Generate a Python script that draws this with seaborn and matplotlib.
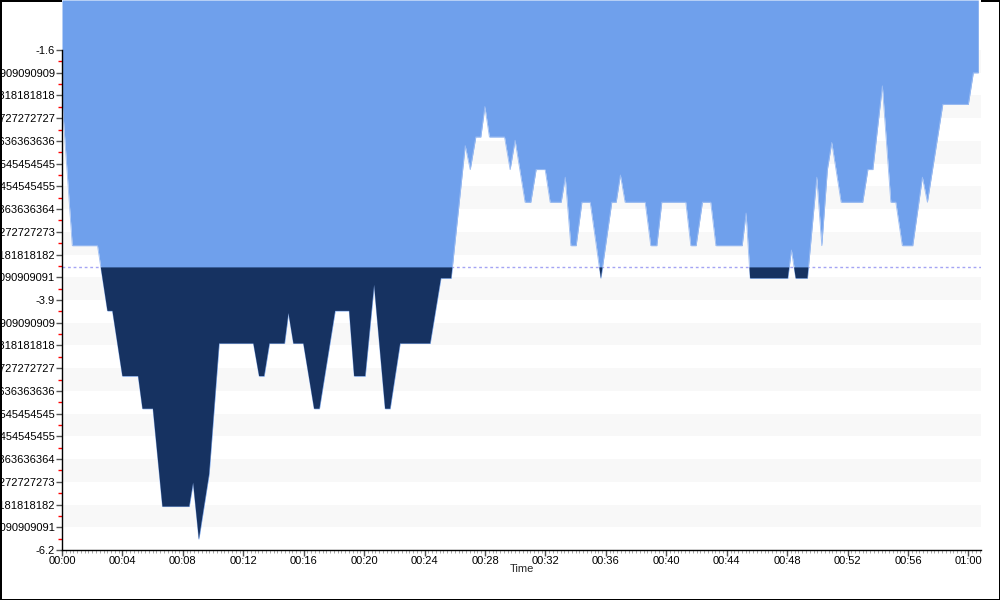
import numpy as np
import matplotlib
matplotlib.use("Agg")
import matplotlib.pyplot as plt
import seaborn as sns
from decimal import Decimal
from matplotlib.ticker import FixedLocator, MultipleLocator, FuncFormatter

# sample times (minutes) and measured values
minutes = [0.00, 0.68, 2.35, 3.01, 3.34, 4.00, 5.04, 5.33, 6.02, 6.65,
           8.42, 8.68, 9.06, 9.74, 10.40, 12.67, 13.05, 13.38, 13.73, 14.73,
           14.99, 15.32, 15.98, 16.69, 17.04, 18.08, 19.01, 19.34, 20.07, 20.66,
           21.39, 21.72, 22.38, 24.37, 25.08, 25.76, 26.69, 27.02, 27.39, 27.72,
           27.99, 28.29, 29.29, 29.66, 29.99, 30.65, 31.03, 31.38, 31.98, 32.31,
           33.04, 33.31, 33.68, 34.03, 34.41, 34.96, 35.67, 36.39, 36.68, 36.96,
           37.27, 38.60, 38.97, 39.37, 39.70, 41.29, 41.62, 41.97, 42.39, 42.94,
           43.28, 45.02, 45.28, 45.55, 48.04, 48.28, 48.57, 49.34, 49.96, 50.29,
           50.66, 50.95, 51.57, 53.00, 53.34, 53.67, 54.30, 54.86, 55.19, 55.62,
           56.31, 56.95, 57.28, 58.30, 59.99, 60.32, 60.65]
values = [-2.05, -3.4, -3.4, -4.0, -4.0, -4.6, -4.6, -4.9, -4.9, -5.8,
          -5.8, -5.58, -6.1, -5.5, -4.3, -4.3, -4.6, -4.6, -4.3, -4.3,
          -4.02, -4.3, -4.3, -4.9, -4.9, -4.0, -4.0, -4.6, -4.6, -3.76,
          -4.9, -4.9, -4.3, -4.3, -3.7, -3.7, -2.48, -2.7, -2.4, -2.4,
          -2.12, -2.4, -2.4, -2.7, -2.43, -3.0, -3.0, -2.7, -2.7, -3.0,
          -3.0, -2.77, -3.4, -3.4, -3.0, -3.0, -3.7, -3.0, -3.0, -2.75,
          -3.0, -3.0, -3.4, -3.4, -3.0, -3.0, -3.4, -3.4, -3.0, -3.0,
          -3.4, -3.4, -3.1, -3.7, -3.7, -3.44, -3.7, -3.7, -2.77, -3.4,
          -2.7, -2.45, -3.0, -3.0, -2.7, -2.7, -1.93, -3.0, -3.0, -3.4,
          -3.4, -2.77, -3.0, -2.1, -2.1, -1.81, -1.81]
threshold = -3.6

y_max, y_min, n_steps = Decimal("-1.6"), Decimal("-6.2"), 22
y_tick_dec = [y_max + (y_min - y_max) * i / n_steps for i in range(n_steps + 1)]
y_ticks = np.array([float(d) for d in y_tick_dec])
y_labels = [f"{d:.15f}".rstrip("0").rstrip(".") for d in y_tick_dec]
x_ticks = np.arange(0, 61, 4)

LIGHT = "#6fa0ec"
DARK = "#163261"

sns.set_theme(style="ticks")
plt.rcParams["font.family"] = ["Liberation Sans", "DejaVu Sans"]

t = np.array(minutes)
v = np.array(values)
y_top = -1.14

fig = plt.figure(figsize=(10, 6), dpi=100)
fig.patch.set_edgecolor("black")
fig.patch.set_linewidth(2)
ax = fig.add_axes([0.062, 0.0833, 0.919, 0.9167])
ax.set_facecolor("white")

# alternating bands
for k in range(11):
    ax.axhspan(y_ticks[2 * k + 1], y_ticks[2 * k], color="#f8f8f8", lw=0, zorder=0)

ax.axhline(threshold, color="#a4a4f4", lw=1, ls=(0, (2, 2)), zorder=1)

ax.fill_between(t, v, y_top, color=LIGHT, lw=0, zorder=2)
ax.fill_between(t, v, threshold, where=v < threshold, interpolate=True,
                color=DARK, lw=0, zorder=3)
sns.lineplot(x=t, y=v, ax=ax, color="#9dbdf2", lw=0.6, zorder=2.5)

ax.set_xlim(0, 60.83)
ax.set_ylim(-6.2, y_top)

ax.yaxis.set_major_locator(FixedLocator(y_ticks))
ax.set_yticklabels(y_labels)
ax.yaxis.set_minor_locator(FixedLocator((y_ticks[:-1] + y_ticks[1:]) / 2))
ax.xaxis.set_major_locator(FixedLocator(x_ticks))
ax.xaxis.set_major_formatter(FuncFormatter(lambda m, p: f"{int(m) // 60:02d}:{int(m) % 60:02d}"))
ax.xaxis.set_minor_locator(MultipleLocator(0.25))

ax.tick_params(axis="y", which="major", length=4, width=1, color="#555555",
               labelsize=8, pad=1, labelcolor="black")
ax.tick_params(axis="y", which="minor", length=3, width=1, color="red")
ax.tick_params(axis="x", which="major", length=4, width=1, color="#555555",
               labelsize=8, pad=0, labelcolor="black")
ax.tick_params(axis="x", which="minor", length=2, width=0.6, color="#999999")

for s in ["top", "right"]:
    ax.spines[s].set_visible(False)
ax.spines["left"].set_bounds(-6.2, -1.6)
ax.spines["left"].set_color("black")
ax.spines["bottom"].set_color("black")
ax.spines["left"].set_linewidth(1)
ax.spines["bottom"].set_linewidth(1)

ax.set_xlabel("Time", fontsize=8, labelpad=-1)
ax.set_ylabel("")

fig.savefig("out.png", dpi=100)
